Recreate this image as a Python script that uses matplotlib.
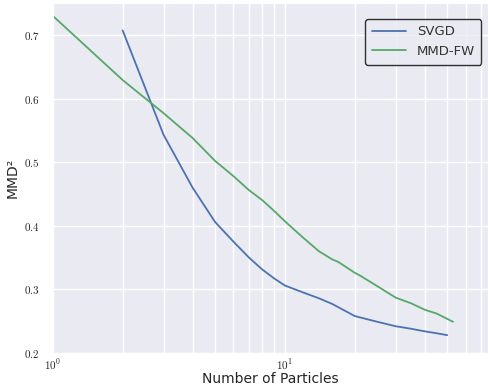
import matplotlib
matplotlib.use('Agg')
import matplotlib.pyplot as plt
import seaborn as sns

svgd_n = [2, 3, 4, 5, 6, 7, 8, 9, 10, 12, 14, 16, 20, 25, 30, 35, 40, 45, 50]
svgd_mmd = [0.707, 0.543, 0.460, 0.406, 0.375, 0.350, 0.331, 0.317, 0.306,
            0.295, 0.286, 0.277, 0.258, 0.249, 0.242, 0.238, 0.234, 0.231, 0.228]

fw_n = [1, 2, 3, 4, 5, 6, 7, 8, 9, 10, 12, 14, 16, 17, 20, 21, 25, 30, 35, 40, 45, 53]
fw_mmd = [0.730, 0.629, 0.577, 0.538, 0.502, 0.478, 0.456, 0.440, 0.423, 0.407,
          0.381, 0.360, 0.347, 0.343, 0.326, 0.322, 0.305, 0.287, 0.278, 0.268, 0.262, 0.249]

yticks = [0.2, 0.3, 0.4, 0.5, 0.6, 0.7]

sns.set_style('darkgrid')
plt.rcParams['mathtext.fontset'] = 'cm'

fig = plt.figure(figsize=(4.89, 3.9), dpi=100)
ax = fig.add_axes([0.108, 0.095, 0.89, 0.897])
ax.plot(svgd_n, svgd_mmd, color='#4C72B0', lw=1.3, label='SVGD')
ax.plot(fw_n, fw_mmd, color='#55A868', lw=1.3, label='MMD-FW')
ax.set_xscale('log')
ax.set_xlim(1, 75)
ax.set_ylim(0.2, 0.75)
ax.set_yticks(yticks)
ax.set_yticklabels(['$%g$' % t for t in yticks], fontsize=8)
ax.set_xticks([1, 10])
ax.set_xticklabels(['$10^{0}$', '$10^{1}$'], fontsize=8)
ax.tick_params(axis='x', which='minor', labelbottom=False)
ax.tick_params(axis='x', pad=0)
ax.tick_params(axis='y', pad=6)
ax.grid(True, which='both', color='white', lw=1)
ax.set_xlabel('Number of Particles', fontsize=10, labelpad=0)
ax.set_ylabel('MMD²', fontsize=10, labelpad=3)
leg = ax.legend(loc='upper right', bbox_to_anchor=(0.985, 0.955), fontsize=9.5,
                frameon=True, fancybox=True, borderpad=0.5, handlelength=2.6,
                borderaxespad=0)
leg.get_frame().set_edgecolor('black')
leg.get_frame().set_facecolor('#EAEAF2')
for t in leg.get_texts():
    t.set_color('#333333')
plt.savefig('out.png')
